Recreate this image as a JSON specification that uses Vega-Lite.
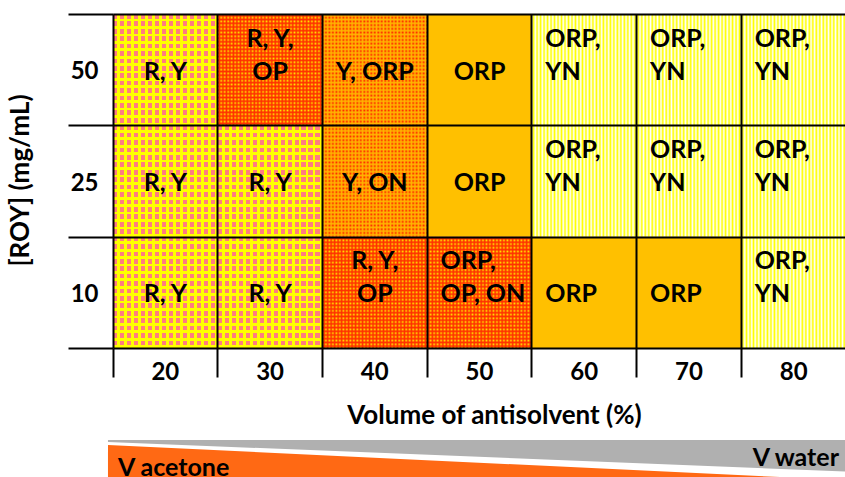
{
"$schema": "https://vega.github.io/schema/vega-lite/v6.json",
"padding": {"left": 7, "top": 2, "right": 0, "bottom": 0},
"spacing": 12,
"config": {"view": {"stroke": null}, "font": "Lato"},
"resolve": {"scale": {"x": "independent", "y": "independent"}},
"vconcat": [
{
"width": 733, "height": 334,
"data": {"values": [
{"vol":20,"roy":50,"label":"R, Y","phase":"a"},
{"vol":30,"roy":50,"label":["R, Y,","OP"],"phase":"b"},
{"vol":40,"roy":50,"label":"Y, ORP","phase":"c"},
{"vol":50,"roy":50,"label":"ORP","phase":"d"},
{"vol":60,"roy":50,"label":["ORP,","YN"],"phase":"e"},
{"vol":70,"roy":50,"label":["ORP,","YN"],"phase":"e"},
{"vol":80,"roy":50,"label":["ORP,","YN"],"phase":"e"},
{"vol":20,"roy":25,"label":"R, Y","phase":"a"},
{"vol":30,"roy":25,"label":"R, Y","phase":"a"},
{"vol":40,"roy":25,"label":"Y, ON","phase":"c"},
{"vol":50,"roy":25,"label":"ORP","phase":"d"},
{"vol":60,"roy":25,"label":["ORP,","YN"],"phase":"e"},
{"vol":70,"roy":25,"label":["ORP,","YN"],"phase":"e"},
{"vol":80,"roy":25,"label":["ORP,","YN"],"phase":"e"},
{"vol":20,"roy":10,"label":"R, Y","phase":"a"},
{"vol":30,"roy":10,"label":"R, Y","phase":"a"},
{"vol":40,"roy":10,"label":["R, Y,","OP"],"phase":"b"},
{"vol":50,"roy":10,"label":["ORP,","OP, ON"],"phase":"b"},
{"vol":60,"roy":10,"label":"ORP","phase":"d"},
{"vol":70,"roy":10,"label":"ORP","phase":"d"},
{"vol":80,"roy":10,"label":["ORP,","YN"],"phase":"e"}
]},
"encoding": {
"x": {"field":"vol","type":"ordinal","scale":{"domain":[20,30,40,50,60,70,80],"paddingInner":0,"paddingOuter":0},
 "axis":{"orient":"bottom","title":"Volume of antisolvent (%)","bandPosition":0,"tickSize":29,"tickWidth":2,"tickColor":"#000","grid":true,"gridColor":"#000","gridWidth":2,"gridOpacity":1,"domain":false,"labelPadding":-17,"labelAngle":0,"labelFont":"Lato","labelFontSize":24,"labelFontWeight":"bold","labelColor":"#000","titleFont":"Lato","titleFontSize":26,"titleFontWeight":"bold","titleColor":"#000","titleX":381,"titleY":67,"titleBaseline":"middle","titleAlign":"center","zindex":1}},
"y": {"field":"roy","type":"ordinal","scale":{"domain":[50,25,10],"paddingInner":0,"paddingOuter":0},
 "axis":{"title":"[ROY] (mg/mL)","tickBand":"extent","tickSize":45,"tickWidth":2,"tickColor":"#000","grid":true,"gridColor":"#000","gridWidth":2,"gridOpacity":1,"domain":false,"labelPadding":-30,"labelOffset":2,"labelFont":"Lato","labelFontSize":24,"labelFontWeight":"bold","labelColor":"#000","titleFont":"Lato","titleFontSize":26,"titleFontWeight":"bold","titleColor":"#000","titleX":-93,"titleY":166,"titleAngle":270,"titleBaseline":"middle","titleAlign":"center","zindex":1}}
},
"layer": [
{"mark":{"type":"rect","strokeWidth":0},
 "encoding":{"fill":{"field":"phase","type":"nominal","scale":{"domain":["a","b","c","d","e"],"range":["#ffff00","#ff3000","#ffb400","#ffc000","#ffff00"]},"legend":null}}},
{"transform":[{"filter":"datum.phase == 'a'"}],
 "mark":{"type":"rect","strokeWidth":0,"fill":{"gradient":"linear","x1":0,"y1":0,"x2":1,"y2":0,"stops":[
{"offset":0,"color":"#ff7c80"},{"offset":0.042,"color":"#ff7c80"},{"offset":0.042,"color":"rgba(255,124,128,0)"},{"offset":0.0667,"color":"rgba(255,124,128,0)"},
{"offset":0.0667,"color":"#ff7c80"},{"offset":0.1087,"color":"#ff7c80"},{"offset":0.1087,"color":"rgba(255,124,128,0)"},{"offset":0.1333,"color":"rgba(255,124,128,0)"},
{"offset":0.1333,"color":"#ff7c80"},{"offset":0.1753,"color":"#ff7c80"},{"offset":0.1753,"color":"rgba(255,124,128,0)"},{"offset":0.2,"color":"rgba(255,124,128,0)"},
{"offset":0.2,"color":"#ff7c80"},{"offset":0.242,"color":"#ff7c80"},{"offset":0.242,"color":"rgba(255,124,128,0)"},{"offset":0.2667,"color":"rgba(255,124,128,0)"},
{"offset":0.2667,"color":"#ff7c80"},{"offset":0.3087,"color":"#ff7c80"},{"offset":0.3087,"color":"rgba(255,124,128,0)"},{"offset":0.3333,"color":"rgba(255,124,128,0)"},
{"offset":0.3333,"color":"#ff7c80"},{"offset":0.3753,"color":"#ff7c80"},{"offset":0.3753,"color":"rgba(255,124,128,0)"},{"offset":0.4,"color":"rgba(255,124,128,0)"},
{"offset":0.4,"color":"#ff7c80"},{"offset":0.442,"color":"#ff7c80"},{"offset":0.442,"color":"rgba(255,124,128,0)"},{"offset":0.4667,"color":"rgba(255,124,128,0)"},
{"offset":0.4667,"color":"#ff7c80"},{"offset":0.5087,"color":"#ff7c80"},{"offset":0.5087,"color":"rgba(255,124,128,0)"},{"offset":0.5333,"color":"rgba(255,124,128,0)"},
{"offset":0.5333,"color":"#ff7c80"},{"offset":0.5753,"color":"#ff7c80"},{"offset":0.5753,"color":"rgba(255,124,128,0)"},{"offset":0.6,"color":"rgba(255,124,128,0)"},
{"offset":0.6,"color":"#ff7c80"},{"offset":0.642,"color":"#ff7c80"},{"offset":0.642,"color":"rgba(255,124,128,0)"},{"offset":0.6667,"color":"rgba(255,124,128,0)"},
{"offset":0.6667,"color":"#ff7c80"},{"offset":0.7087,"color":"#ff7c80"},{"offset":0.7087,"color":"rgba(255,124,128,0)"},{"offset":0.7333,"color":"rgba(255,124,128,0)"},
{"offset":0.7333,"color":"#ff7c80"},{"offset":0.7753,"color":"#ff7c80"},{"offset":0.7753,"color":"rgba(255,124,128,0)"},{"offset":0.8,"color":"rgba(255,124,128,0)"},
{"offset":0.8,"color":"#ff7c80"},{"offset":0.842,"color":"#ff7c80"},{"offset":0.842,"color":"rgba(255,124,128,0)"},{"offset":0.8667,"color":"rgba(255,124,128,0)"},
{"offset":0.8667,"color":"#ff7c80"},{"offset":0.9087,"color":"#ff7c80"},{"offset":0.9087,"color":"rgba(255,124,128,0)"},{"offset":0.9333,"color":"rgba(255,124,128,0)"},
{"offset":0.9333,"color":"#ff7c80"},{"offset":0.9753,"color":"#ff7c80"},{"offset":0.9753,"color":"rgba(255,124,128,0)"},{"offset":1,"color":"rgba(255,124,128,0)"}
]}}},
{"transform":[{"filter":"datum.phase == 'a'"}],
 "mark":{"type":"rect","strokeWidth":0,"fill":{"gradient":"linear","x1":0,"y1":0,"x2":0,"y2":1,"stops":[
{"offset":0,"color":"rgba(255,255,0,0)"},{"offset":0.042,"color":"rgba(255,255,0,0)"},{"offset":0.042,"color":"#ffff00"},{"offset":0.0667,"color":"#ffff00"},
{"offset":0.0667,"color":"rgba(255,255,0,0)"},{"offset":0.1087,"color":"rgba(255,255,0,0)"},{"offset":0.1087,"color":"#ffff00"},{"offset":0.1333,"color":"#ffff00"},
{"offset":0.1333,"color":"rgba(255,255,0,0)"},{"offset":0.1753,"color":"rgba(255,255,0,0)"},{"offset":0.1753,"color":"#ffff00"},{"offset":0.2,"color":"#ffff00"},
{"offset":0.2,"color":"rgba(255,255,0,0)"},{"offset":0.242,"color":"rgba(255,255,0,0)"},{"offset":0.242,"color":"#ffff00"},{"offset":0.2667,"color":"#ffff00"},
{"offset":0.2667,"color":"rgba(255,255,0,0)"},{"offset":0.3087,"color":"rgba(255,255,0,0)"},{"offset":0.3087,"color":"#ffff00"},{"offset":0.3333,"color":"#ffff00"},
{"offset":0.3333,"color":"rgba(255,255,0,0)"},{"offset":0.3753,"color":"rgba(255,255,0,0)"},{"offset":0.3753,"color":"#ffff00"},{"offset":0.4,"color":"#ffff00"},
{"offset":0.4,"color":"rgba(255,255,0,0)"},{"offset":0.442,"color":"rgba(255,255,0,0)"},{"offset":0.442,"color":"#ffff00"},{"offset":0.4667,"color":"#ffff00"},
{"offset":0.4667,"color":"rgba(255,255,0,0)"},{"offset":0.5087,"color":"rgba(255,255,0,0)"},{"offset":0.5087,"color":"#ffff00"},{"offset":0.5333,"color":"#ffff00"},
{"offset":0.5333,"color":"rgba(255,255,0,0)"},{"offset":0.5753,"color":"rgba(255,255,0,0)"},{"offset":0.5753,"color":"#ffff00"},{"offset":0.6,"color":"#ffff00"},
{"offset":0.6,"color":"rgba(255,255,0,0)"},{"offset":0.642,"color":"rgba(255,255,0,0)"},{"offset":0.642,"color":"#ffff00"},{"offset":0.6667,"color":"#ffff00"},
{"offset":0.6667,"color":"rgba(255,255,0,0)"},{"offset":0.7087,"color":"rgba(255,255,0,0)"},{"offset":0.7087,"color":"#ffff00"},{"offset":0.7333,"color":"#ffff00"},
{"offset":0.7333,"color":"rgba(255,255,0,0)"},{"offset":0.7753,"color":"rgba(255,255,0,0)"},{"offset":0.7753,"color":"#ffff00"},{"offset":0.8,"color":"#ffff00"},
{"offset":0.8,"color":"rgba(255,255,0,0)"},{"offset":0.842,"color":"rgba(255,255,0,0)"},{"offset":0.842,"color":"#ffff00"},{"offset":0.8667,"color":"#ffff00"},
{"offset":0.8667,"color":"rgba(255,255,0,0)"},{"offset":0.9087,"color":"rgba(255,255,0,0)"},{"offset":0.9087,"color":"#ffff00"},{"offset":0.9333,"color":"#ffff00"},
{"offset":0.9333,"color":"rgba(255,255,0,0)"},{"offset":0.9753,"color":"rgba(255,255,0,0)"},{"offset":0.9753,"color":"#ffff00"},{"offset":1,"color":"#ffff00"}
]}}},
{"transform":[{"filter":"datum.phase == 'b'"}],
 "mark":{"type":"rect","strokeWidth":0,"fill":{"gradient":"linear","x1":0,"y1":0,"x2":1,"y2":0,"stops":[
{"offset":0,"color":"#ffe800"},{"offset":0.0167,"color":"rgba(255,232,0,0)"},{"offset":0.0333,"color":"#ffe800"},{"offset":0.05,"color":"rgba(255,232,0,0)"},
{"offset":0.0667,"color":"#ffe800"},{"offset":0.0833,"color":"rgba(255,232,0,0)"},{"offset":0.1,"color":"#ffe800"},{"offset":0.1167,"color":"rgba(255,232,0,0)"},
{"offset":0.1333,"color":"#ffe800"},{"offset":0.15,"color":"rgba(255,232,0,0)"},{"offset":0.1667,"color":"#ffe800"},{"offset":0.1833,"color":"rgba(255,232,0,0)"},
{"offset":0.2,"color":"#ffe800"},{"offset":0.2167,"color":"rgba(255,232,0,0)"},{"offset":0.2333,"color":"#ffe800"},{"offset":0.25,"color":"rgba(255,232,0,0)"},
{"offset":0.2667,"color":"#ffe800"},{"offset":0.2833,"color":"rgba(255,232,0,0)"},{"offset":0.3,"color":"#ffe800"},{"offset":0.3167,"color":"rgba(255,232,0,0)"},
{"offset":0.3333,"color":"#ffe800"},{"offset":0.35,"color":"rgba(255,232,0,0)"},{"offset":0.3667,"color":"#ffe800"},{"offset":0.3833,"color":"rgba(255,232,0,0)"},
{"offset":0.4,"color":"#ffe800"},{"offset":0.4167,"color":"rgba(255,232,0,0)"},{"offset":0.4333,"color":"#ffe800"},{"offset":0.45,"color":"rgba(255,232,0,0)"},
{"offset":0.4667,"color":"#ffe800"},{"offset":0.4833,"color":"rgba(255,232,0,0)"},{"offset":0.5,"color":"#ffe800"},{"offset":0.5167,"color":"rgba(255,232,0,0)"},
{"offset":0.5333,"color":"#ffe800"},{"offset":0.55,"color":"rgba(255,232,0,0)"},{"offset":0.5667,"color":"#ffe800"},{"offset":0.5833,"color":"rgba(255,232,0,0)"},
{"offset":0.6,"color":"#ffe800"},{"offset":0.6167,"color":"rgba(255,232,0,0)"},{"offset":0.6333,"color":"#ffe800"},{"offset":0.65,"color":"rgba(255,232,0,0)"},
{"offset":0.6667,"color":"#ffe800"},{"offset":0.6833,"color":"rgba(255,232,0,0)"},{"offset":0.7,"color":"#ffe800"},{"offset":0.7167,"color":"rgba(255,232,0,0)"},
{"offset":0.7333,"color":"#ffe800"},{"offset":0.75,"color":"rgba(255,232,0,0)"},{"offset":0.7667,"color":"#ffe800"},{"offset":0.7833,"color":"rgba(255,232,0,0)"},
{"offset":0.8,"color":"#ffe800"},{"offset":0.8167,"color":"rgba(255,232,0,0)"},{"offset":0.8333,"color":"#ffe800"},{"offset":0.85,"color":"rgba(255,232,0,0)"},
{"offset":0.8667,"color":"#ffe800"},{"offset":0.8833,"color":"rgba(255,232,0,0)"},{"offset":0.9,"color":"#ffe800"},{"offset":0.9167,"color":"rgba(255,232,0,0)"},
{"offset":0.9333,"color":"#ffe800"},{"offset":0.95,"color":"rgba(255,232,0,0)"},{"offset":0.9667,"color":"#ffe800"},{"offset":0.9833,"color":"rgba(255,232,0,0)"},
{"offset":1,"color":"#ffe800"}
]}}},
{"transform":[{"filter":"datum.phase == 'b'"}],
 "mark":{"type":"rect","strokeWidth":0,"fill":{"gradient":"linear","x1":0,"y1":0,"x2":0,"y2":1,"stops":[
{"offset":0,"color":"rgba(255,48,0,0)"},{"offset":0.0167,"color":"#ff3000"},{"offset":0.0333,"color":"rgba(255,48,0,0)"},{"offset":0.05,"color":"#ff3000"},
{"offset":0.0667,"color":"rgba(255,48,0,0)"},{"offset":0.0833,"color":"#ff3000"},{"offset":0.1,"color":"rgba(255,48,0,0)"},{"offset":0.1167,"color":"#ff3000"},
{"offset":0.1333,"color":"rgba(255,48,0,0)"},{"offset":0.15,"color":"#ff3000"},{"offset":0.1667,"color":"rgba(255,48,0,0)"},{"offset":0.1833,"color":"#ff3000"},
{"offset":0.2,"color":"rgba(255,48,0,0)"},{"offset":0.2167,"color":"#ff3000"},{"offset":0.2333,"color":"rgba(255,48,0,0)"},{"offset":0.25,"color":"#ff3000"},
{"offset":0.2667,"color":"rgba(255,48,0,0)"},{"offset":0.2833,"color":"#ff3000"},{"offset":0.3,"color":"rgba(255,48,0,0)"},{"offset":0.3167,"color":"#ff3000"},
{"offset":0.3333,"color":"rgba(255,48,0,0)"},{"offset":0.35,"color":"#ff3000"},{"offset":0.3667,"color":"rgba(255,48,0,0)"},{"offset":0.3833,"color":"#ff3000"},
{"offset":0.4,"color":"rgba(255,48,0,0)"},{"offset":0.4167,"color":"#ff3000"},{"offset":0.4333,"color":"rgba(255,48,0,0)"},{"offset":0.45,"color":"#ff3000"},
{"offset":0.4667,"color":"rgba(255,48,0,0)"},{"offset":0.4833,"color":"#ff3000"},{"offset":0.5,"color":"rgba(255,48,0,0)"},{"offset":0.5167,"color":"#ff3000"},
{"offset":0.5333,"color":"rgba(255,48,0,0)"},{"offset":0.55,"color":"#ff3000"},{"offset":0.5667,"color":"rgba(255,48,0,0)"},{"offset":0.5833,"color":"#ff3000"},
{"offset":0.6,"color":"rgba(255,48,0,0)"},{"offset":0.6167,"color":"#ff3000"},{"offset":0.6333,"color":"rgba(255,48,0,0)"},{"offset":0.65,"color":"#ff3000"},
{"offset":0.6667,"color":"rgba(255,48,0,0)"},{"offset":0.6833,"color":"#ff3000"},{"offset":0.7,"color":"rgba(255,48,0,0)"},{"offset":0.7167,"color":"#ff3000"},
{"offset":0.7333,"color":"rgba(255,48,0,0)"},{"offset":0.75,"color":"#ff3000"},{"offset":0.7667,"color":"rgba(255,48,0,0)"},{"offset":0.7833,"color":"#ff3000"},
{"offset":0.8,"color":"rgba(255,48,0,0)"},{"offset":0.8167,"color":"#ff3000"},{"offset":0.8333,"color":"rgba(255,48,0,0)"},{"offset":0.85,"color":"#ff3000"},
{"offset":0.8667,"color":"rgba(255,48,0,0)"},{"offset":0.8833,"color":"#ff3000"},{"offset":0.9,"color":"rgba(255,48,0,0)"},{"offset":0.9167,"color":"#ff3000"},
{"offset":0.9333,"color":"rgba(255,48,0,0)"},{"offset":0.95,"color":"#ff3000"},{"offset":0.9667,"color":"rgba(255,48,0,0)"},{"offset":0.9833,"color":"#ff3000"},
{"offset":1,"color":"rgba(255,48,0,0)"}
]}}},
{"transform":[{"filter":"datum.phase == 'c'"}],
 "mark":{"type":"rect","strokeWidth":0,"fill":{"gradient":"linear","x1":0,"y1":0,"x2":1,"y2":0,"stops":[
{"offset":0,"color":"#ff2000"},{"offset":0.0167,"color":"rgba(255,32,0,0)"},{"offset":0.0333,"color":"#ff2000"},{"offset":0.05,"color":"rgba(255,32,0,0)"},
{"offset":0.0667,"color":"#ff2000"},{"offset":0.0833,"color":"rgba(255,32,0,0)"},{"offset":0.1,"color":"#ff2000"},{"offset":0.1167,"color":"rgba(255,32,0,0)"},
{"offset":0.1333,"color":"#ff2000"},{"offset":0.15,"color":"rgba(255,32,0,0)"},{"offset":0.1667,"color":"#ff2000"},{"offset":0.1833,"color":"rgba(255,32,0,0)"},
{"offset":0.2,"color":"#ff2000"},{"offset":0.2167,"color":"rgba(255,32,0,0)"},{"offset":0.2333,"color":"#ff2000"},{"offset":0.25,"color":"rgba(255,32,0,0)"},
{"offset":0.2667,"color":"#ff2000"},{"offset":0.2833,"color":"rgba(255,32,0,0)"},{"offset":0.3,"color":"#ff2000"},{"offset":0.3167,"color":"rgba(255,32,0,0)"},
{"offset":0.3333,"color":"#ff2000"},{"offset":0.35,"color":"rgba(255,32,0,0)"},{"offset":0.3667,"color":"#ff2000"},{"offset":0.3833,"color":"rgba(255,32,0,0)"},
{"offset":0.4,"color":"#ff2000"},{"offset":0.4167,"color":"rgba(255,32,0,0)"},{"offset":0.4333,"color":"#ff2000"},{"offset":0.45,"color":"rgba(255,32,0,0)"},
{"offset":0.4667,"color":"#ff2000"},{"offset":0.4833,"color":"rgba(255,32,0,0)"},{"offset":0.5,"color":"#ff2000"},{"offset":0.5167,"color":"rgba(255,32,0,0)"},
{"offset":0.5333,"color":"#ff2000"},{"offset":0.55,"color":"rgba(255,32,0,0)"},{"offset":0.5667,"color":"#ff2000"},{"offset":0.5833,"color":"rgba(255,32,0,0)"},
{"offset":0.6,"color":"#ff2000"},{"offset":0.6167,"color":"rgba(255,32,0,0)"},{"offset":0.6333,"color":"#ff2000"},{"offset":0.65,"color":"rgba(255,32,0,0)"},
{"offset":0.6667,"color":"#ff2000"},{"offset":0.6833,"color":"rgba(255,32,0,0)"},{"offset":0.7,"color":"#ff2000"},{"offset":0.7167,"color":"rgba(255,32,0,0)"},
{"offset":0.7333,"color":"#ff2000"},{"offset":0.75,"color":"rgba(255,32,0,0)"},{"offset":0.7667,"color":"#ff2000"},{"offset":0.7833,"color":"rgba(255,32,0,0)"},
{"offset":0.8,"color":"#ff2000"},{"offset":0.8167,"color":"rgba(255,32,0,0)"},{"offset":0.8333,"color":"#ff2000"},{"offset":0.85,"color":"rgba(255,32,0,0)"},
{"offset":0.8667,"color":"#ff2000"},{"offset":0.8833,"color":"rgba(255,32,0,0)"},{"offset":0.9,"color":"#ff2000"},{"offset":0.9167,"color":"rgba(255,32,0,0)"},
{"offset":0.9333,"color":"#ff2000"},{"offset":0.95,"color":"rgba(255,32,0,0)"},{"offset":0.9667,"color":"#ff2000"},{"offset":0.9833,"color":"rgba(255,32,0,0)"},
{"offset":1,"color":"#ff2000"}
]}}},
{"transform":[{"filter":"datum.phase == 'c'"}],
 "mark":{"type":"rect","strokeWidth":0,"fill":{"gradient":"linear","x1":0,"y1":0,"x2":0,"y2":1,"stops":[
{"offset":0,"color":"rgba(255,180,0,0)"},{"offset":0.0167,"color":"#ffb400"},{"offset":0.0333,"color":"rgba(255,180,0,0)"},{"offset":0.05,"color":"#ffb400"},
{"offset":0.0667,"color":"rgba(255,180,0,0)"},{"offset":0.0833,"color":"#ffb400"},{"offset":0.1,"color":"rgba(255,180,0,0)"},{"offset":0.1167,"color":"#ffb400"},
{"offset":0.1333,"color":"rgba(255,180,0,0)"},{"offset":0.15,"color":"#ffb400"},{"offset":0.1667,"color":"rgba(255,180,0,0)"},{"offset":0.1833,"color":"#ffb400"},
{"offset":0.2,"color":"rgba(255,180,0,0)"},{"offset":0.2167,"color":"#ffb400"},{"offset":0.2333,"color":"rgba(255,180,0,0)"},{"offset":0.25,"color":"#ffb400"},
{"offset":0.2667,"color":"rgba(255,180,0,0)"},{"offset":0.2833,"color":"#ffb400"},{"offset":0.3,"color":"rgba(255,180,0,0)"},{"offset":0.3167,"color":"#ffb400"},
{"offset":0.3333,"color":"rgba(255,180,0,0)"},{"offset":0.35,"color":"#ffb400"},{"offset":0.3667,"color":"rgba(255,180,0,0)"},{"offset":0.3833,"color":"#ffb400"},
{"offset":0.4,"color":"rgba(255,180,0,0)"},{"offset":0.4167,"color":"#ffb400"},{"offset":0.4333,"color":"rgba(255,180,0,0)"},{"offset":0.45,"color":"#ffb400"},
{"offset":0.4667,"color":"rgba(255,180,0,0)"},{"offset":0.4833,"color":"#ffb400"},{"offset":0.5,"color":"rgba(255,180,0,0)"},{"offset":0.5167,"color":"#ffb400"},
{"offset":0.5333,"color":"rgba(255,180,0,0)"},{"offset":0.55,"color":"#ffb400"},{"offset":0.5667,"color":"rgba(255,180,0,0)"},{"offset":0.5833,"color":"#ffb400"},
{"offset":0.6,"color":"rgba(255,180,0,0)"},{"offset":0.6167,"color":"#ffb400"},{"offset":0.6333,"color":"rgba(255,180,0,0)"},{"offset":0.65,"color":"#ffb400"},
{"offset":0.6667,"color":"rgba(255,180,0,0)"},{"offset":0.6833,"color":"#ffb400"},{"offset":0.7,"color":"rgba(255,180,0,0)"},{"offset":0.7167,"color":"#ffb400"},
{"offset":0.7333,"color":"rgba(255,180,0,0)"},{"offset":0.75,"color":"#ffb400"},{"offset":0.7667,"color":"rgba(255,180,0,0)"},{"offset":0.7833,"color":"#ffb400"},
{"offset":0.8,"color":"rgba(255,180,0,0)"},{"offset":0.8167,"color":"#ffb400"},{"offset":0.8333,"color":"rgba(255,180,0,0)"},{"offset":0.85,"color":"#ffb400"},
{"offset":0.8667,"color":"rgba(255,180,0,0)"},{"offset":0.8833,"color":"#ffb400"},{"offset":0.9,"color":"rgba(255,180,0,0)"},{"offset":0.9167,"color":"#ffb400"},
{"offset":0.9333,"color":"rgba(255,180,0,0)"},{"offset":0.95,"color":"#ffb400"},{"offset":0.9667,"color":"rgba(255,180,0,0)"},{"offset":0.9833,"color":"#ffb400"},
{"offset":1,"color":"rgba(255,180,0,0)"}
]}}},
{"transform":[{"filter":"datum.phase == 'e'"}],
 "mark":{"type":"rect","strokeWidth":0,"fill":{"gradient":"linear","x1":0,"y1":0,"x2":1,"y2":0,"stops":[
{"offset":0,"color":"#ffffff"},{"offset":0.0167,"color":"rgba(255,255,255,0)"},{"offset":0.0333,"color":"#ffffff"},{"offset":0.05,"color":"rgba(255,255,255,0)"},
{"offset":0.0667,"color":"#ffffff"},{"offset":0.0833,"color":"rgba(255,255,255,0)"},{"offset":0.1,"color":"#ffffff"},{"offset":0.1167,"color":"rgba(255,255,255,0)"},
{"offset":0.1333,"color":"#ffffff"},{"offset":0.15,"color":"rgba(255,255,255,0)"},{"offset":0.1667,"color":"#ffffff"},{"offset":0.1833,"color":"rgba(255,255,255,0)"},
{"offset":0.2,"color":"#ffffff"},{"offset":0.2167,"color":"rgba(255,255,255,0)"},{"offset":0.2333,"color":"#ffffff"},{"offset":0.25,"color":"rgba(255,255,255,0)"},
{"offset":0.2667,"color":"#ffffff"},{"offset":0.2833,"color":"rgba(255,255,255,0)"},{"offset":0.3,"color":"#ffffff"},{"offset":0.3167,"color":"rgba(255,255,255,0)"},
{"offset":0.3333,"color":"#ffffff"},{"offset":0.35,"color":"rgba(255,255,255,0)"},{"offset":0.3667,"color":"#ffffff"},{"offset":0.3833,"color":"rgba(255,255,255,0)"},
{"offset":0.4,"color":"#ffffff"},{"offset":0.4167,"color":"rgba(255,255,255,0)"},{"offset":0.4333,"color":"#ffffff"},{"offset":0.45,"color":"rgba(255,255,255,0)"},
{"offset":0.4667,"color":"#ffffff"},{"offset":0.4833,"color":"rgba(255,255,255,0)"},{"offset":0.5,"color":"#ffffff"},{"offset":0.5167,"color":"rgba(255,255,255,0)"},
{"offset":0.5333,"color":"#ffffff"},{"offset":0.55,"color":"rgba(255,255,255,0)"},{"offset":0.5667,"color":"#ffffff"},{"offset":0.5833,"color":"rgba(255,255,255,0)"},
{"offset":0.6,"color":"#ffffff"},{"offset":0.6167,"color":"rgba(255,255,255,0)"},{"offset":0.6333,"color":"#ffffff"},{"offset":0.65,"color":"rgba(255,255,255,0)"},
{"offset":0.6667,"color":"#ffffff"},{"offset":0.6833,"color":"rgba(255,255,255,0)"},{"offset":0.7,"color":"#ffffff"},{"offset":0.7167,"color":"rgba(255,255,255,0)"},
{"offset":0.7333,"color":"#ffffff"},{"offset":0.75,"color":"rgba(255,255,255,0)"},{"offset":0.7667,"color":"#ffffff"},{"offset":0.7833,"color":"rgba(255,255,255,0)"},
{"offset":0.8,"color":"#ffffff"},{"offset":0.8167,"color":"rgba(255,255,255,0)"},{"offset":0.8333,"color":"#ffffff"},{"offset":0.85,"color":"rgba(255,255,255,0)"},
{"offset":0.8667,"color":"#ffffff"},{"offset":0.8833,"color":"rgba(255,255,255,0)"},{"offset":0.9,"color":"#ffffff"},{"offset":0.9167,"color":"rgba(255,255,255,0)"},
{"offset":0.9333,"color":"#ffffff"},{"offset":0.95,"color":"rgba(255,255,255,0)"},{"offset":0.9667,"color":"#ffffff"},{"offset":0.9833,"color":"rgba(255,255,255,0)"},
{"offset":1,"color":"#ffffff"}
]}}},
{"transform":[{"filter":"!isArray(datum.label) && !(datum.vol >= 60 || (datum.vol == 50 && datum.roy == 10))"}],
 "mark":{"type":"text","align":"center","baseline":"alphabetic","dy":10,"fontSize":25,"fontWeight":"bold","font":"Lato","fill":"#000","lineHeight":33},
 "encoding":{"text":{"field":"label","type":"nominal"}}},
{"transform":[{"filter":"isArray(datum.label) && !(datum.vol >= 60 || (datum.vol == 50 && datum.roy == 10))"}],
 "mark":{"type":"text","align":"center","baseline":"alphabetic","dy":-23,"fontSize":25,"fontWeight":"bold","font":"Lato","fill":"#000","lineHeight":33},
 "encoding":{"text":{"field":"label","type":"nominal"}}},
{"transform":[{"filter":"!isArray(datum.label) && (datum.vol >= 60 || (datum.vol == 50 && datum.roy == 10))"}],
 "mark":{"type":"text","align":"left","baseline":"alphabetic","dx":-39,"dy":10,"fontSize":25,"fontWeight":"bold","font":"Lato","fill":"#000","lineHeight":33},
 "encoding":{"text":{"field":"label","type":"nominal"}}},
{"transform":[{"filter":"isArray(datum.label) && (datum.vol >= 60 || (datum.vol == 50 && datum.roy == 10))"}],
 "mark":{"type":"text","align":"left","baseline":"alphabetic","dx":-39,"dy":-23,"fontSize":25,"fontWeight":"bold","font":"Lato","fill":"#000","lineHeight":33},
 "encoding":{"text":{"field":"label","type":"nominal"}}}
]
},
{
"width": 733, "height": 37,
"layer": [
{"data":{"values":[
{"solvent":"water","vol":14.52,"top":0,"bottom":2},
{"solvent":"water","vol":85,"top":0,"bottom":31.5},
{"solvent":"acetone","vol":14.52,"top":5,"bottom":37},
{"solvent":"acetone","vol":78.7,"top":37,"bottom":37}
]},
 "mark":{"type":"area","interpolate":"linear"},
 "encoding":{
  "x":{"field":"vol","type":"quantitative","scale":{"domain":[15,85],"nice":false,"zero":false},"axis":null},
  "y":{"field":"top","type":"quantitative","scale":{"domain":[0,37],"reverse":true,"nice":false,"zero":false},"axis":null,"stack":null},
  "y2":{"field":"bottom"},
  "color":{"field":"solvent","type":"nominal","scale":{"domain":["water","acetone"],"range":["#b0b0b0","#ff6914"]},"legend":null}
 }},
{"data":{"values":[{"vol":15.48,"pos":35.5,"label":"V acetone"}]},
 "mark":{"type":"text","align":"left","baseline":"alphabetic","fontSize":25,"fontWeight":"bold","font":"Lato","fill":"#000","clip":true},
 "encoding":{"x":{"field":"vol","type":"quantitative","axis":null},"y":{"field":"pos","type":"quantitative","axis":null},"text":{"field":"label","type":"nominal"}}},
{"data":{"values":[{"vol":84.33,"pos":25.5,"label":"V water"}]},
 "mark":{"type":"text","align":"right","baseline":"alphabetic","fontSize":25,"fontWeight":"bold","font":"Lato","fill":"#000","clip":true},
 "encoding":{"x":{"field":"vol","type":"quantitative","axis":null},"y":{"field":"pos","type":"quantitative","axis":null},"text":{"field":"label","type":"nominal"}}}
]
}
]
}
